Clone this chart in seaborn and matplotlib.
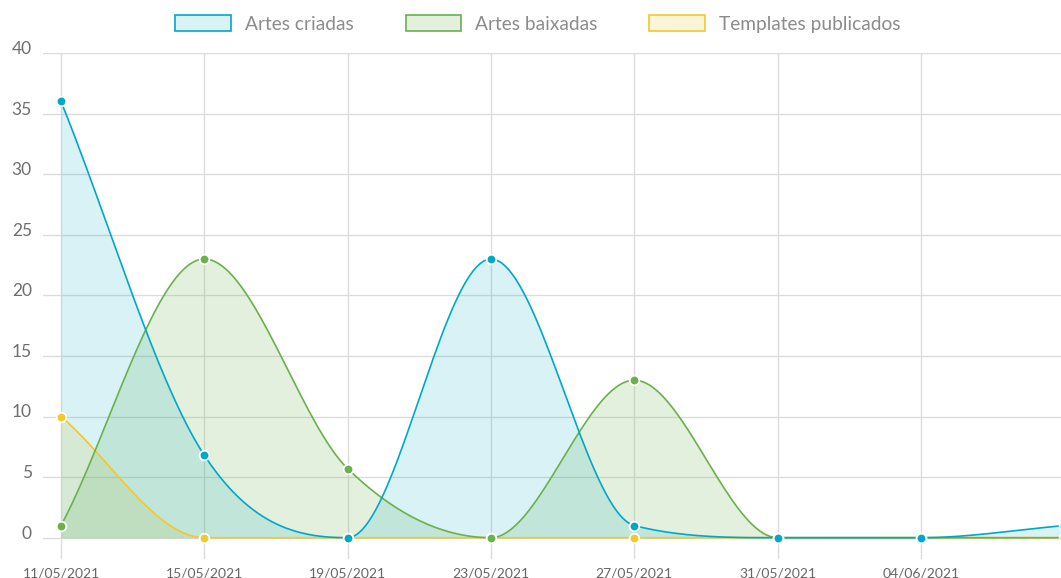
import numpy as np
import matplotlib
matplotlib.use("Agg")
import matplotlib.pyplot as plt
import matplotlib.transforms as mtransforms
import seaborn as sns
from matplotlib.patches import Patch

# ---- data ----
dates = ["11/05/2021", "15/05/2021", "19/05/2021", "23/05/2021",
         "27/05/2021", "31/05/2021", "04/06/2021", "08/06/2021"]
artes_criadas = [36, 6.8, 0, 23, 1, 0, 0, 1]
artes_baixadas = [1, 23, 5.7, 0, 13, 0, 0, 0]
templates_publicados = [10, 0, 0, 0, 0, 0, 0, 0]
series_names = ["Artes criadas", "Artes baixadas", "Templates publicados"]
y_ticks = [0, 5, 10, 15, 20, 25, 30, 35, 40]

line_colors = ["#00a8c8", "#6ab04c", "#f2c82a"]
fill_colors = [(0 / 255, 168 / 255, 200 / 255, 0.15),
               (106 / 255, 176 / 255, 76 / 255, 0.18),
               (242 / 255, 200 / 255, 42 / 255, 0.18)]


def monotone_curve(x, y, n=40):
    """Monotone cubic (Fritsch-Carlson, as Chart.js 'monotone') for drawing."""
    x = np.asarray(x, float)
    y = np.asarray(y, float)
    k = len(x)
    d = np.diff(y) / np.diff(x)
    m = np.zeros(k)
    m[0] = d[0]
    m[-1] = d[-1]
    for i in range(1, k - 1):
        if d[i - 1] == 0 or d[i] == 0 or np.sign(d[i - 1]) != np.sign(d[i]):
            m[i] = 0
        else:
            m[i] = (d[i - 1] + d[i]) / 2
    for i in range(k - 1):
        if d[i] == 0:
            m[i] = m[i + 1] = 0
            continue
        a = m[i] / d[i]
        b = m[i + 1] / d[i]
        s = a * a + b * b
        if s > 9:
            tau = 3 / np.sqrt(s)
            m[i] = a * tau * d[i]
            m[i + 1] = b * tau * d[i]
    xs, ys = [], []
    for i in range(k - 1):
        h = x[i + 1] - x[i]
        t = np.linspace(0, 1, n, endpoint=(i == k - 2))
        h00 = 2 * t**3 - 3 * t**2 + 1
        h10 = t**3 - 2 * t**2 + t
        h01 = -2 * t**3 + 3 * t**2
        h11 = t**3 - t**2
        xs.append(x[i] + t * h)
        ys.append(h00 * y[i] + h10 * h * m[i] + h01 * y[i + 1] + h11 * h * m[i + 1])
    return np.concatenate(xs), np.concatenate(ys)


sns.set_style("white")
plt.rcParams["font.family"] = ["Lato", "DejaVu Sans"]

W, H, DPI = 1061, 578, 100
fig = plt.figure(figsize=(W / DPI, H / DPI), dpi=DPI)

# pixel geometry of the plotting area (gridlines reach a bit past the zero/first category)
first_px, step_px = 61.0, (921 - 61) / 6
zero_px, unit_px = 537.7, (537.7 - 53) / 40
ax_left, ax_right, ax_top, ax_bottom = 43, 1061, 53, 559
ax = fig.add_axes([ax_left / W, 1 - ax_bottom / H,
                   (ax_right - ax_left) / W, (ax_bottom - ax_top) / H])

idx = np.arange(len(dates))
all_series = [artes_criadas, artes_baixadas, templates_publicados]

# draw order: templates (bottom), baixadas, criadas (top)
for order, si in enumerate([2, 1, 0]):
    vals = all_series[si]
    xs, ys = monotone_curve(idx, vals)
    ax.fill_between(xs, 0, ys, color=fill_colors[si], linewidth=0, zorder=2 + order)
    sns.lineplot(x=xs, y=ys, ax=ax, color=line_colors[si], linewidth=1.2,
                 sort=False, estimator=None, zorder=6 + order)
    sns.scatterplot(x=idx, y=vals, ax=ax, color=line_colors[si], s=48,
                    edgecolor="white", linewidth=1.3, zorder=10 + order)

ax.set_xlim((ax_left - first_px) / step_px, (ax_right - first_px) / step_px)
ax.set_ylim((zero_px - ax_bottom) / unit_px, 40)
n_vis = 7
ax.set_xticks(idx[:n_vis])
ax.set_xticklabels(dates[:n_vis])
ax.set_yticks(y_ticks)
ax.set_axisbelow(True)
ax.grid(True, color="#dcdcdc", linewidth=1)
for s in ax.spines.values():
    s.set_visible(False)
ax.tick_params(axis="x", length=0, pad=6, labelsize=10, labelcolor="#666666")
ax.tick_params(axis="y", length=0, pad=8, labelsize=12.5, labelcolor="#6e6e6e")
ax.set_xlabel("")
ax.set_ylabel("")
shift = mtransforms.ScaledTranslation(0, 4 / 72, fig.dpi_scale_trans)
for lab in ax.get_yticklabels():
    lab.set_transform(lab.get_transform() + shift)

handles = [Patch(facecolor=fill_colors[i], edgecolor=line_colors[i], linewidth=1.2,
                 label=series_names[i]) for i in range(3)]
leg = fig.legend(handles=handles, loc="center", bbox_to_anchor=(538 / W, 1 - 24 / H),
                 ncol=3, frameon=False, handlelength=2.9,
                 handleheight=0.85, handletextpad=0.74, columnspacing=2.7,
                 prop={"size": 13.8})
for t in leg.get_texts():
    t.set_color("#8c8c8c")

fig.savefig("out.png", dpi=DPI)
